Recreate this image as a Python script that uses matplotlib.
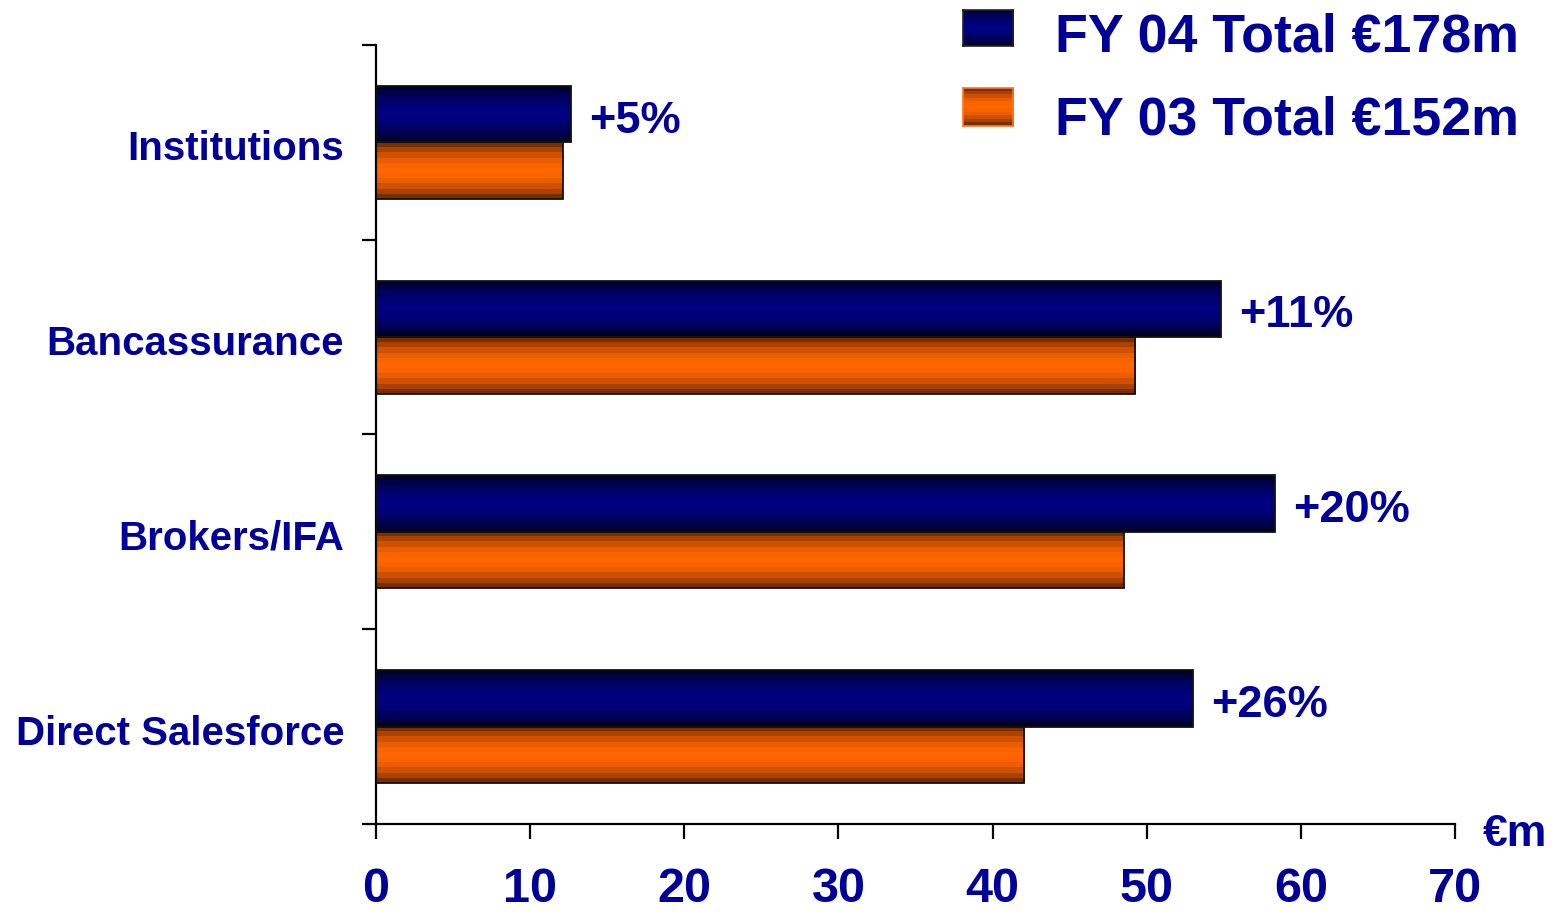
import matplotlib
matplotlib.use("Agg")
import matplotlib.pyplot as plt
import matplotlib.transforms as mtransforms
import numpy as np
from matplotlib.colors import LinearSegmentedColormap

plt.rcParams['font.family'] = ['Liberation Sans', 'DejaVu Sans']
plt.rcParams['font.weight'] = 'bold'

# data (EUR m)
channels = ['Institutions', 'Bancassurance', 'Brokers/IFA', 'Direct Salesforce']
fy04 = [12.65, 54.8, 58.3, 53.0]
fy03 = [12.1, 49.25, 48.5, 42.05]
growth = ['+5%', '+11%', '+20%', '+26%']
series_labels = ['FY 04 Total €178m', 'FY 03 Total €152m']
xticks = [0, 10, 20, 30, 40, 50, 60, 70]

TXT = '#000099'
navy_cmap = LinearSegmentedColormap.from_list('navy', ['#00002a', '#000080'])
orange_cmap = LinearSegmentedColormap.from_list('orng', ['#7a2e00', '#ff6600'])

# stepped vertical shading, dark at top/bottom edges
bands = 1 - np.abs(np.linspace(-1, 1, 11)) ** 2
shade = bands.reshape(-1, 1)


def shaded_barh(ax, y, widths, h, cmap):
    bars = ax.barh(y, widths, height=h, facecolor='none',
                   edgecolor='#111111', linewidth=1.3, zorder=3)
    for b in bars:
        x0, y0 = b.get_x(), b.get_y()
        im = ax.imshow(shade, cmap=cmap, vmin=0, vmax=1, aspect='auto',
                       interpolation='nearest', zorder=2,
                       extent=[x0, x0 + b.get_width(), y0, y0 + b.get_height()])
        im.set_clip_path(b)
    return bars


fig = plt.figure(figsize=(15.65, 9.14), dpi=100)
ax = fig.add_axes([0.2403, 0.0985, 0.6894, 0.8523])

pos = np.arange(len(channels))[::-1]
h = 0.29
shaded_barh(ax, pos + h / 2, fy04, h, navy_cmap)
shaded_barh(ax, pos - h / 2, fy03, h, orange_cmap)

for p, v, g in zip(pos, fy04, growth):
    ax.annotate(g, (v, p + h / 2), xytext=(13, -5), textcoords='offset points',
                ha='left', va='center', fontsize=32.5, color=TXT, fontweight='bold')

ax.set_xlim(0, 70)
ax.set_ylim(-0.5, 3.5)

ax.set_xticks(xticks)
ax.set_xticklabels([str(t) for t in xticks], fontsize=35, color=TXT, fontweight='bold')
ax.tick_params(axis='x', direction='out', length=11, width=1.6, pad=20)

ax.set_yticks(np.arange(-0.5, 4, 1.0))
ax.set_yticklabels([])
ax.tick_params(axis='y', which='major', direction='out', length=10, width=1.6)
ax.set_yticks(pos, minor=True)
ax.set_yticklabels(channels, minor=True, fontsize=29, color=TXT, fontweight='bold')
ax.tick_params(axis='y', which='minor', length=0, pad=23)
shift = mtransforms.ScaledTranslation(0, -3 / 100, fig.dpi_scale_trans)
for lab in ax.get_yticklabels(minor=True):
    lab.set_transform(lab.get_transform() + shift)

for s in ['top', 'right']:
    ax.spines[s].set_visible(False)
for s in ['left', 'bottom']:
    ax.spines[s].set_linewidth(1.6)

ax.text(1.026, -0.014, '€m', transform=ax.transAxes, ha='left', va='center',
        fontsize=32, color=TXT, fontweight='bold')

# legend drawn by hand at the top right
swatches = [([0.6153, 0.9497, 0.032, 0.0394], navy_cmap, '#222222', 0.9434),
            ([0.6153, 0.8621, 0.032, 0.0416], orange_cmap, '#ff7a1a', 0.8523)]
for (rect, cmap, edge, base), lab in zip(swatches, series_labels):
    sw = fig.add_axes(rect)
    sw.imshow(shade, cmap=cmap, vmin=0, vmax=1, aspect='auto', interpolation='nearest')
    sw.set_xticks([])
    sw.set_yticks([])
    for sp in sw.spines.values():
        sp.set_color(edge)
        sp.set_linewidth(1.2)
    fig.text(0.6741, base, lab, ha='left', va='baseline', fontsize=38.7,
             color=TXT, fontweight='bold')

fig.savefig('out.png', dpi=100)
